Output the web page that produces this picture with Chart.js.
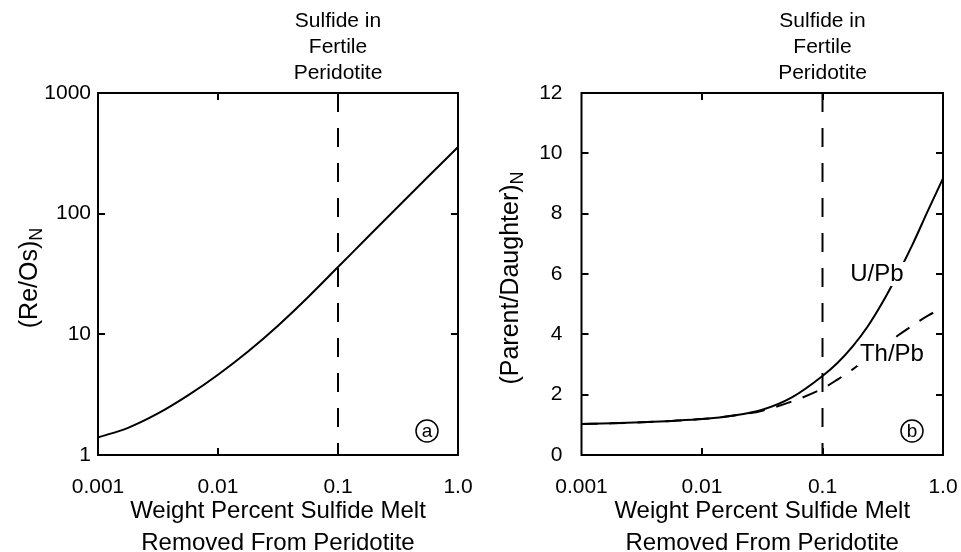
<!DOCTYPE html>
<html>
<head>
<meta charset="utf-8">
<title>Sulfide melt removal</title>
<script src="https://cdn.jsdelivr.net/npm/chart.js@4.4.1/dist/chart.umd.min.js"></script>
<style>
  html, body { margin: 0; padding: 0; background: #fff; }
  #wrap { position: relative; width: 961px; height: 552px; }
  canvas { position: absolute; top: 0; }
  #panelA { left: 0; }
  #panelB { left: 480px; }
</style>
</head>
<body>
<div id="wrap">
  <canvas id="panelA" width="480" height="552"></canvas>
  <canvas id="panelB" width="481" height="552"></canvas>
</div>
<script>
// wt% sulfide melt removed, panel (a)
const sulfideA = [0.001, 0.00178, 0.00316, 0.00562, 0.01, 0.0178, 0.0316, 0.0562, 0.1, 0.178, 0.316, 0.562, 1.0];
const reOs = [1.40, 1.68, 2.21, 3.12, 4.63, 7.21, 11.8, 20.3, 36.1, 64.3, 114, 202, 357];

// wt% sulfide melt removed, panel (b)
const sulfideB = [0.001, 0.00178, 0.00316, 0.00562, 0.01, 0.0178, 0.0316, 0.0562, 0.1, 0.133, 0.178, 0.237, 0.316, 0.422, 0.562, 0.75, 1.0];
const uPb = [1.03, 1.05, 1.085, 1.13, 1.19, 1.30, 1.50, 1.92, 2.62, 3.05, 3.60, 4.26, 5.07, 6.00, 7.00, 8.10, 9.17];
const thPb = [1.03, 1.05, 1.085, 1.13, 1.19, 1.30, 1.47, 1.78, 2.20, 2.50, 2.84, 3.22, 3.58, 3.96, 4.30, 4.62, 4.88];

// sulfide content of fertile peridotite
const fertileSulfide = 0.1;

const xTicks = [0.001, 0.01, 0.1, 1];
const xTickLabels = ['0.001', '0.01', '0.1', '1.0'];
const yTicksA = [1, 10, 100, 1000];
const yTickLabelsA = ['1', '10', '100', '1000'];
const yTicksB = [0, 2, 4, 6, 8, 10, 12];

const FONT = '"Liberation Sans", Arial, Helvetica, sans-serif';
const TICK = 7;

function pts(xs, ys) {
  return xs.map((x, i) => ({ x: x, y: ys[i] }));
}

// frame, inward ticks, y title with subscript, annotations
function decorations(cfg) {
  return {
    id: 'decorations',
    afterDatasetsDraw(chart) {
      const { ctx, chartArea: a, scales: { x, y } } = chart;
      ctx.save();
      ctx.strokeStyle = '#000';
      ctx.fillStyle = '#000';

      // curve labels sit on a white patch that breaks the line
      (cfg.labels || []).forEach(l => {
        const px = x.getPixelForValue(l.x);
        const py = y.getPixelForValue(l.y);
        ctx.font = '24px ' + FONT;
        const w = ctx.measureText(l.text).width;
        ctx.fillStyle = '#fff';
        ctx.fillRect(px - w / 2 - 3, py - 12, w + 6, 24);
        ctx.fillStyle = '#000';
        ctx.textAlign = 'center';
        ctx.textBaseline = 'middle';
        ctx.fillText(l.text, px, py);
      });

      ctx.lineWidth = 2;
      ctx.strokeRect(a.left, a.top, a.right - a.left, a.bottom - a.top);

      ctx.beginPath();
      x.ticks.slice(1, -1).forEach(t => {
        const px = Math.round(x.getPixelForValue(t.value));
        ctx.moveTo(px, a.bottom); ctx.lineTo(px, a.bottom - TICK);
        ctx.moveTo(px, a.top); ctx.lineTo(px, a.top + TICK);
      });
      y.ticks.slice(1, -1).forEach(t => {
        const py = Math.round(y.getPixelForValue(t.value));
        ctx.moveTo(a.left, py); ctx.lineTo(a.left + TICK, py);
        ctx.moveTo(a.right, py); ctx.lineTo(a.right - TICK, py);
      });
      ctx.stroke();

      // circled panel letter
      const cx = a.right - 31, cy = a.bottom - 24;
      ctx.lineWidth = 1.5;
      ctx.beginPath();
      ctx.arc(cx, cy, 11, 0, Math.PI * 2);
      ctx.stroke();
      ctx.font = '19px ' + FONT;
      ctx.textAlign = 'center';
      ctx.textBaseline = 'middle';
      ctx.fillText(cfg.letter, cx, cy + 1);

      // note above the dashed line
      const fx = x.getPixelForValue(fertileSulfide);
      ctx.font = '21px ' + FONT;
      ['Sulfide in', 'Fertile', 'Peridotite'].forEach((s, i) => {
        ctx.fillText(s, fx, 21 + i * 26);
      });

      // rotated y title with subscript N
      ctx.translate(cfg.titleX, (a.top + a.bottom) / 2 + 4);
      ctx.rotate(-Math.PI / 2);
      ctx.font = '25px ' + FONT;
      const wMain = ctx.measureText(cfg.title).width;
      ctx.font = '18px ' + FONT;
      const wSub = ctx.measureText('N').width;
      const start = -(wMain + wSub) / 2;
      ctx.textAlign = 'left';
      ctx.font = '25px ' + FONT;
      ctx.fillText(cfg.title, start, 0);
      ctx.font = '18px ' + FONT;
      ctx.fillText('N', start + wMain, 7);
      ctx.restore();
    }
  };
}

function xScale() {
  return {
    type: 'logarithmic',
    min: 0.001,
    max: 1,
    afterBuildTicks: s => { s.ticks = xTicks.map(v => ({ value: v })); },
    afterFit: s => { s.height = 97; s.paddingLeft = 0; s.paddingRight = 0; },
    grid: { display: false, drawTicks: false },
    border: { display: false },
    ticks: {
      autoSkip: false,
      maxRotation: 0,
      padding: 20,
      color: '#000',
      font: { family: FONT, size: 21 },
      callback: (v, i) => xTickLabels[i]
    },
    title: {
      display: true,
      text: ['Weight Percent Sulfide Melt', 'Removed From Peridotite'],
      color: '#000',
      font: { family: FONT, size: 24, lineHeight: 32 / 24 },
      padding: { top: 0, bottom: -7 }
    }
  };
}

function baseOptions(padRight, yScale) {
  return {
    responsive: false,
    animation: false,
    devicePixelRatio: 1,
    layout: { padding: { top: 93, right: padRight, left: 0, bottom: 0 } },
    plugins: { legend: { display: false }, tooltip: { enabled: false } },
    elements: { point: { radius: 0 } },
    scales: { x: xScale(), y: yScale }
  };
}

const solid = { borderColor: '#000', borderWidth: 2, cubicInterpolationMode: 'monotone', fill: false };
const marker = { borderColor: '#000', borderWidth: 2, borderDash: [19, 16], tension: 0, fill: false };

new Chart(document.getElementById('panelA'), {
  type: 'line',
  data: {
    datasets: [
      Object.assign({ label: '(Re/Os)N', data: pts(sulfideA, reOs) }, solid),
      Object.assign({ label: 'Sulfide in Fertile Peridotite', data: [{ x: fertileSulfide, y: 1000 }, { x: fertileSulfide, y: 1 }] }, marker)
    ]
  },
  options: baseOptions(22, {
    type: 'logarithmic',
    min: 1,
    max: 1000,
    afterBuildTicks: s => { s.ticks = yTicksA.map(v => ({ value: v })); },
    afterFit: s => { s.width = 98; s.paddingTop = 0; s.paddingBottom = 0; },
    grid: { display: false, drawTicks: false },
    border: { display: false },
    ticks: {
      padding: 7,
      color: '#000',
      font: { family: FONT, size: 21 },
      callback: (v, i) => yTickLabelsA[i]
    }
  }),
  plugins: [decorations({ letter: 'a', title: '(Re/Os)', titleX: 30 })]
});

new Chart(document.getElementById('panelB'), {
  type: 'line',
  data: {
    datasets: [
      Object.assign({ label: 'U/Pb', data: pts(sulfideB, uPb) }, solid),
      Object.assign({ label: 'Th/Pb', data: pts(sulfideB, thPb) }, solid, { borderDash: [16, 12] }),
      Object.assign({ label: 'Sulfide in Fertile Peridotite', data: [{ x: fertileSulfide, y: 12 }, { x: fertileSulfide, y: 0 }] }, marker)
    ]
  },
  options: baseOptions(18, {
    type: 'linear',
    min: 0,
    max: 12,
    afterBuildTicks: s => { s.ticks = yTicksB.map(v => ({ value: v })); },
    afterFit: s => { s.width = 101.5; s.paddingTop = 0; s.paddingBottom = 0; },
    grid: { display: false, drawTicks: false },
    border: { display: false },
    ticks: {
      padding: 19,
      color: '#000',
      font: { family: FONT, size: 21 }
    }
  }),
  plugins: [decorations({
    letter: 'b',
    title: '(Parent/Daughter)',
    titleX: 31,
    labels: [
      { text: 'U/Pb', x: 0.283, y: 6.0 },
      { text: 'Th/Pb', x: 0.377, y: 3.35 }
    ]
  })]
});
</script>
</body>
</html>
